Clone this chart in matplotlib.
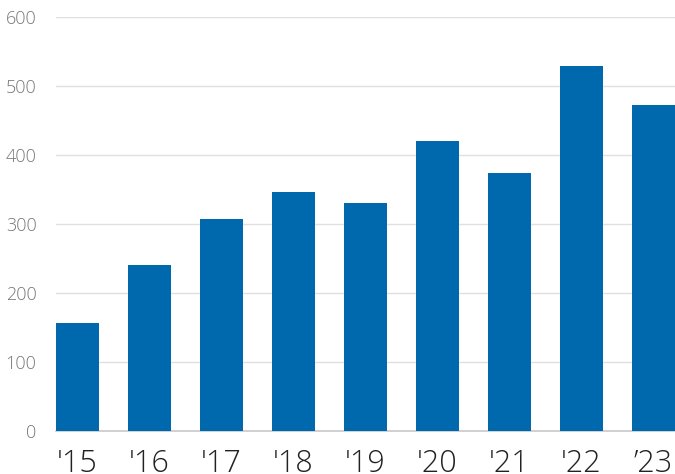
import matplotlib
matplotlib.use("Agg")
import matplotlib.pyplot as plt

years = ["'15", "'16", "'17", "'18", "'19", "'20", "'21", "'22", "\u201923"]
values = [157, 241, 307, 346, 330, 420, 374, 529, 472]
yticks = [0, 100, 200, 300, 400, 500, 600]

plt.rcParams['font.family'] = ['Open Sans', 'DejaVu Sans']

fig = plt.figure(figsize=(6.75, 4.74), dpi=100)
ax = fig.add_axes([56 / 675, 43 / 474, 619 / 675, 414 / 474])
x = list(range(len(years)))
ax.bar(x, values, width=0.6, color="#0069ad", zorder=3)
ax.set_xlim(-0.3, len(years) - 0.7)
ax.set_ylim(0, 600)
ax.set_yticks(yticks)
ax.set_xticks(x)
ax.set_xticklabels(years)
ax.grid(axis="y", color="#e0e0e0", linewidth=1, zorder=0)
for s in ["top", "right", "left"]:
    ax.spines[s].set_visible(False)
ax.spines["bottom"].set_color("#c8c8c8")
ax.spines["bottom"].set_linewidth(1.2)
ax.tick_params(axis="y", length=0, pad=14, labelsize=13, labelcolor="#777777")
ax.tick_params(axis="x", length=0, pad=12, labelsize=22, labelcolor="#222222")
for lab in ax.get_yticklabels():
    lab.set_fontweight("light")
for lab in ax.get_xticklabels():
    lab.set_fontweight("light")
fig.savefig("out.png", dpi=100)
